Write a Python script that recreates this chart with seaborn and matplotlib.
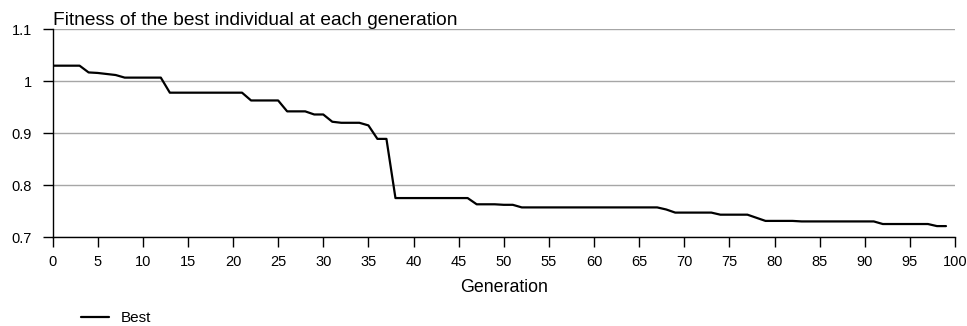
import numpy as np
import pandas as pd
import matplotlib

matplotlib.use("Agg")
import matplotlib.pyplot as plt
import seaborn as sns

sns.set_style("ticks")
plt.rcParams["font.family"] = ["Liberation Sans", "DejaVu Sans"]
plt.rcParams["text.color"] = "black"
plt.rcParams["axes.labelcolor"] = "black"

# best fitness per generation
generation = list(range(100))
best = (
    [1.030] * 4
    + [1.017, 1.016, 1.014, 1.012]
    + [1.007] * 5
    + [0.978] * 9
    + [0.963] * 4
    + [0.942] * 3
    + [0.936] * 2
    + [0.922]
    + [0.920] * 3
    + [0.915]
    + [0.889] * 2
    + [0.775] * 9
    + [0.763, 0.763, 0.763, 0.762, 0.762]
    + [0.757] * 16
    + [0.753]
    + [0.747] * 5
    + [0.743] * 4
    + [0.737]
    + [0.731] * 4
    + [0.730] * 9
    + [0.725] * 6
    + [0.721] * 2
)

df = pd.DataFrame({"Generation": generation, "Best": best})

fig = plt.figure(figsize=(9.67, 3.26), dpi=100)
ax = fig.add_axes([0.0543, 0.273, 0.9333, 0.637])

sns.lineplot(data=df, x="Generation", y="Best", color="black", linewidth=1.6,
             label="Best", ax=ax)

ax.set_xlim(0, 100)
ax.set_ylim(0.7, 1.1)
ax.set_xticks(np.arange(0, 101, 5))
ax.set_yticks([0.7, 0.8, 0.9, 1.0, 1.1])
ax.set_yticklabels(["0.7", "0.8", "0.9", "1", "1.1"])
ax.yaxis.grid(True, color="#a6a6a6", linewidth=1)
ax.xaxis.grid(False)
sns.despine(ax=ax)
for s in ["left", "bottom"]:
    ax.spines[s].set_color("black")
    ax.spines[s].set_linewidth(1)
ax.tick_params(axis="x", length=7, width=1, pad=6, labelsize=10.5, colors="black")
ax.tick_params(axis="y", length=7, width=1, pad=8, labelsize=10.5, colors="black")

ax.set_xlabel("Generation", fontsize=12.8, labelpad=7)
ax.set_ylabel("")
ax.set_title("Fitness of the best individual at each generation", loc="left",
             fontsize=13.8, pad=1)

ax.legend_.remove()
fig.legend(loc="lower left", bbox_to_anchor=(0.07, -0.04), frameon=False,
           fontsize=11, handlelength=1.8)

fig.savefig("out.png", dpi=100)
